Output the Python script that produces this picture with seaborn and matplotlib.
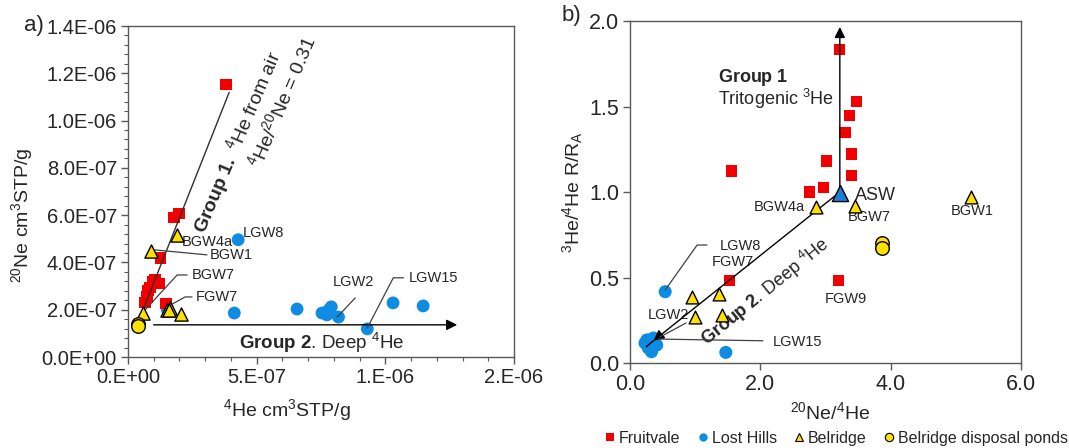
import numpy as np
import pandas as pd
import matplotlib
matplotlib.use("Agg")
import matplotlib.pyplot as plt
import seaborn as sns
from matplotlib.ticker import MultipleLocator, FixedLocator
from matplotlib.lines import Line2D

# ---------------- data: panel a ----------------
fruit_a_he4 = [0.381e-6, 0.179e-6, 0.198e-6, 0.125e-6, 0.105e-6, 0.120e-6, 0.085e-6, 0.078e-6, 0.074e-6, 0.066e-6, 0.148e-6, 0.095e-6]
fruit_a_ne20 = [11.53e-7, 5.89e-7, 6.06e-7, 4.19e-7, 3.26e-7, 3.10e-7, 2.95e-7, 2.80e-7, 2.54e-7, 2.29e-7, 2.25e-7, 3.20e-7]
lost_a_he4 = [0.428e-6, 0.152e-6, 0.413e-6, 0.657e-6, 0.754e-6, 0.773e-6, 0.790e-6, 0.780e-6, 0.818e-6, 0.930e-6, 1.030e-6, 1.147e-6]
lost_a_ne20 = [4.96e-7, 2.03e-7, 1.86e-7, 2.03e-7, 1.86e-7, 1.78e-7, 2.12e-7, 1.99e-7, 1.69e-7, 1.19e-7, 2.29e-7, 2.16e-7]
bel_a_he4 = [0.190e-6, 0.090e-6, 0.058e-6, 0.152e-6, 0.163e-6, 0.206e-6, 0.160e-6]
bel_a_ne20 = [5.17e-7, 4.49e-7, 1.86e-7, 1.99e-7, 2.08e-7, 1.82e-7, 2.00e-7]
pond_a_he4 = [0.040e-6, 0.038e-6]
pond_a_ne20 = [1.40e-7, 1.33e-7]

xticks_a = [0, 5e-7, 1e-6, 1.5e-6]
xticklabels_a = ["0.E+00", "5.E-07", "1.E-06", "2.E-06"]
yticks_a = [0, 2e-7, 4e-7, 6e-7, 8e-7, 1.0e-6, 1.2e-6, 1.4e-6]
yticklabels_a = ["0.0E+00", "2.0E-07", "4.0E-07", "6.0E-07", "8.0E-07", "1.0E-06", "1.2E-06", "1.4E-06"]

# ---------------- data: panel b ----------------
fruit_b_ne_he = [3.21, 3.47, 3.37, 3.30, 3.40, 3.01, 1.56, 3.40, 2.97, 2.75, 1.53, 3.20]
fruit_b_r = [1.834, 1.528, 1.446, 1.347, 1.222, 1.181, 1.123, 1.094, 1.027, 1.000, 0.481, 0.481]
lost_b_ne_he = [0.54, 0.26, 0.36, 0.41, 0.28, 0.23, 0.33, 1.47]
lost_b_r = [0.417, 0.135, 0.146, 0.105, 0.088, 0.117, 0.066, 0.062]
bel_b_ne_he = [2.85, 3.45, 5.23, 0.95, 1.37, 1.00, 1.41]
bel_b_r = [0.914, 0.920, 0.973, 0.384, 0.404, 0.267, 0.281]
pond_b_ne_he = [3.87, 3.86]
pond_b_r = [0.703, 0.670]
asw_ne_he = [3.23]
asw_r = [0.996]

xticks_b = [0, 2, 4, 6]
xticklabels_b = ["0.0", "2.0", "4.0", "6.0"]
yticks_b = [0, 0.5, 1.0, 1.5, 2.0]
yticklabels_b = ["0.0", "0.5", "1.0", "1.5", "2.0"]

RED = "#F20000"
BLUE = "#0E8BE3"
YEL = "#FFE000"
TXT = "#262626"
SPINE = "#595959"

sns.set_theme(style="white")
plt.rcParams["font.family"] = ["Liberation Sans", "DejaVu Sans"]
plt.rcParams["mathtext.fontset"] = "custom"
plt.rcParams["mathtext.rm"] = "Liberation Sans"
plt.rcParams["mathtext.it"] = "Liberation Sans:italic"
plt.rcParams["mathtext.bf"] = "Liberation Sans:bold"

fig = plt.figure(figsize=(10.69, 4.48), dpi=100)
axa = fig.add_axes([128/1069, 1-357/448, (514-128)/1069, (357-26)/448])
axb = fig.add_axes([630/1069, 1-363/448, (1021-630)/1069, (363-21)/448])

def style_axis(ax):
    for s in ax.spines.values():
        s.set_color(SPINE)
        s.set_linewidth(1.0)
    ax.tick_params(which="both", direction="out", color=SPINE, labelcolor=TXT,
                   bottom=True, left=True, top=False, right=False)
    ax.tick_params(which="major", length=5, width=1.0, pad=3)
    ax.tick_params(which="minor", length=3, width=0.8)

# ---------------- panel a ----------------
da = {
    "fruit": pd.DataFrame({"x": fruit_a_he4, "y": fruit_a_ne20}),
    "lost": pd.DataFrame({"x": lost_a_he4, "y": lost_a_ne20}),
    "bel": pd.DataFrame({"x": bel_a_he4, "y": bel_a_ne20}),
    "pond": pd.DataFrame({"x": pond_a_he4, "y": pond_a_ne20}),
}
sns.scatterplot(data=da["lost"], x="x", y="y", ax=axa, marker="o", color=BLUE, s=85, edgecolor="none", linewidth=0, zorder=3)
sns.scatterplot(data=da["fruit"], x="x", y="y", ax=axa, marker="s", color=RED, s=66, edgecolor="none", linewidth=0, zorder=3)
sns.scatterplot(data=da["bel"], x="x", y="y", ax=axa, marker="^", color=YEL, s=90, edgecolor="black", linewidth=1.0, zorder=5)
sns.scatterplot(data=da["pond"], x="x", y="y", ax=axa, marker="o", color=YEL, s=95, edgecolor="black", linewidth=1.0, zorder=6)

axa.set_xlim(0, 1.5e-6)
axa.set_ylim(0, 1.4e-6)
axa.xaxis.set_major_locator(FixedLocator(xticks_a))
axa.set_xticklabels(xticklabels_a, fontsize=14.5)
axa.xaxis.set_minor_locator(MultipleLocator(1e-7))
axa.yaxis.set_major_locator(FixedLocator(yticks_a))
axa.set_yticklabels(yticklabels_a, fontsize=14.5)
axa.yaxis.set_minor_locator(MultipleLocator(4e-8))
axa.set_xlabel("")
axa.set_ylabel("")
style_axis(axa)

lk = dict(color="#404040", lw=0.9, zorder=4)
# Group 1 line and Group 2 arrow
axa.plot([0.055e-6, 0.393e-6], [1.9e-7, 11.19e-7], color="#303030", lw=1.0, zorder=4)
axa.annotate("", xy=(1.29e-6, 1.36e-7), xytext=(0.089e-6, 1.36e-7),
             arrowprops=dict(arrowstyle="-|>", color="black", lw=1.0, mutation_scale=16), zorder=4)
# leaders
axa.plot([0.105e-6, 0.307e-6], [4.53e-7, 4.32e-7], **lk)
axa.plot([0.066e-6, 0.191e-6, 0.23e-6], [1.99e-7, 3.47e-7, 3.47e-7], **lk)
axa.plot([0.152e-6, 0.222e-6, 0.249e-6], [2.12e-7, 2.54e-7, 2.54e-7], **lk)
axa.plot([0.813e-6, 0.883e-6], [1.69e-7, 2.5e-7], **lk)
axa.plot([0.93e-6, 1.031e-6, 1.07e-6], [1.23e-7, 3.35e-7, 3.35e-7], **lk)

lab = dict(fontsize=10.5, color=TXT, va="center")
axa.text(0.319e-6, 4.32e-7, "BGW1", ha="left", **lab)
axa.text(0.21e-6, 4.87e-7, "BGW4a", ha="left", **lab)
axa.text(0.447e-6, 5.25e-7, "LGW8", ha="left", **lab)
axa.text(0.249e-6, 3.47e-7, "BGW7", ha="left", **lab)
axa.text(0.265e-6, 2.54e-7, "FGW7", ha="left", **lab)
axa.text(0.875e-6, 3.18e-7, "LGW2", ha="center", **lab)
axa.text(1.09e-6, 3.35e-7, "LGW15", ha="left", **lab)

axa.text(0.751e-6, 0.59e-7, r"$\mathbf{Group\ 2}$. Deep $^{4}$He", fontsize=13.5, color=TXT, ha="center", va="center")
axa.text(0.424e-6, 9.11e-7, r"$\mathbf{Group\ 1.}$ $^{4}$He from air", fontsize=14, color=TXT,
         ha="center", va="center", rotation=67, rotation_mode="anchor")
axa.text(0.599e-6, 10.8e-7, r"$^{4}$He/$^{20}$Ne = 0.31", fontsize=14, color=TXT,
         ha="center", va="center", rotation=67, rotation_mode="anchor")

# ---------------- panel b ----------------
db = {
    "fruit": pd.DataFrame({"x": fruit_b_ne_he, "y": fruit_b_r}),
    "lost": pd.DataFrame({"x": lost_b_ne_he, "y": lost_b_r}),
    "bel": pd.DataFrame({"x": bel_b_ne_he, "y": bel_b_r}),
    "pond": pd.DataFrame({"x": pond_b_ne_he, "y": pond_b_r}),
    "asw": pd.DataFrame({"x": asw_ne_he, "y": asw_r}),
}
sns.scatterplot(data=db["lost"], x="x", y="y", ax=axb, marker="o", color=BLUE, s=88, edgecolor="none", linewidth=0, zorder=3)
sns.scatterplot(data=db["fruit"], x="x", y="y", ax=axb, marker="s", color=RED, s=64, edgecolor="none", linewidth=0, zorder=3)
sns.scatterplot(data=db["bel"], x="x", y="y", ax=axb, marker="^", color=YEL, s=85, edgecolor="black", linewidth=1.0, zorder=5)
sns.scatterplot(data=db["pond"], x="x", y="y", ax=axb, marker="o", color=YEL, s=95, edgecolor="black", linewidth=1.0, zorder=5)
sns.scatterplot(data=db["asw"], x="x", y="y", ax=axb, marker="^", color="#1A7FD8", s=135, edgecolor="black", linewidth=1.0, zorder=6)

axb.set_xlim(0, 6)
axb.set_ylim(0, 2)
axb.xaxis.set_major_locator(FixedLocator(xticks_b))
axb.set_xticklabels(xticklabels_b, fontsize=15.5)
axb.yaxis.set_major_locator(FixedLocator(yticks_b))
axb.set_yticklabels(yticklabels_b, fontsize=15.5)
axb.set_xlabel("")
axb.set_ylabel("")
style_axis(axb)

axb.annotate("", xy=(3.22, 1.965), xytext=(3.22, 1.0),
             arrowprops=dict(arrowstyle="-|>", color="black", lw=1.0, mutation_scale=16, shrinkA=0, shrinkB=0), zorder=4)
axb.annotate("", xy=(0.36, 0.13), xytext=(3.22, 1.0),
             arrowprops=dict(arrowstyle="-|>", color="black", lw=1.0, mutation_scale=16, shrinkA=0, shrinkB=0), zorder=4)
axb.plot([0.36, 0.25], [0.13, 0.095], color="black", lw=1.0, zorder=4)
# leaders
axb.plot([0.54, 1.03, 1.18], [0.427, 0.69, 0.69], **lk)
axb.plot([0.86, 0.46], [0.234, 0.152], **lk)
axb.plot([2.04, 0.43], [0.13, 0.14], **lk)

axb.text(1.37, 0.684, "LGW8", ha="left", **lab)
axb.text(1.26, 0.59, "FGW7", ha="left", **lab)
axb.text(0.28, 0.28, "LGW2", ha="left", **lab)
axb.text(2.19, 0.125, "LGW15", ha="left", **lab)
axb.text(3.31, 0.374, "FGW9", ha="center", **lab)
axb.text(2.68, 0.912, "BGW4a", ha="right", **lab)
axb.text(3.34, 0.854, "BGW7", ha="left", **lab)
axb.text(5.25, 0.889, "BGW1", ha="center", **lab)
axb.text(3.45, 0.982, "ASW", ha="left", fontsize=13, color=TXT, va="center")
axb.text(1.35, 1.667, r"$\mathbf{Group\ 1}$", ha="left", va="center", fontsize=13, color=TXT)
axb.text(1.35, 1.544, r"Tritogenic $^{3}$He", ha="left", va="center", fontsize=13, color=TXT)
axb.text(2.07, 0.415, r"$\mathbf{Group\ 2}$. Deep $^{4}$He", fontsize=13, color=TXT,
         ha="center", va="center", rotation=39, rotation_mode="anchor")

# ---------------- figure texts ----------------
fig.text(34/1069, 1-25/448, "a)", fontsize=16, color=TXT, ha="center", va="center")
fig.text(571/1069, 1-16/448, "b)", fontsize=16, color=TXT, ha="center", va="center")
fig.text(287/1069, 1-410/448, r"$^{4}$He cm$^{3}$STP/g", fontsize=14, color=TXT, ha="center", va="center")
fig.text(22/1069, 1-215/448, r"$^{20}$Ne cm$^{3}$STP/g", fontsize=14, color=TXT, ha="center", va="center", rotation=90)
fig.text(830/1069, 1-412/448, r"$^{20}$Ne/$^{4}$He", fontsize=14, color=TXT, ha="center", va="center")
fig.text(573/1069, 1-192/448, r"$^{3}$He/$^{4}$He R/R$_\mathregular{A}$", fontsize=14, color=TXT, ha="center", va="center", rotation=90)

handles = [
    Line2D([], [], ls="none", marker="s", color=RED, markersize=6, markeredgewidth=0),
    Line2D([], [], ls="none", marker="o", color=BLUE, markersize=6, markeredgewidth=0),
    Line2D([], [], ls="none", marker="^", markerfacecolor=YEL, markeredgecolor="black", markersize=6, markeredgewidth=0.8),
    Line2D([], [], ls="none", marker="o", markerfacecolor=YEL, markeredgecolor="black", markersize=6, markeredgewidth=0.8),
]
fig.legend(handles, ["Fruitvale", "Lost Hills", "Belridge", "Belridge disposal ponds"],
           loc="center right", bbox_to_anchor=(1068/1069, 1-438/448), ncol=4, frameon=False,
           fontsize=11.5, handletextpad=0.05, columnspacing=0.9, handlelength=1.0, labelcolor=TXT,
           borderaxespad=0, borderpad=0)

fig.savefig("out.png", dpi=100)
